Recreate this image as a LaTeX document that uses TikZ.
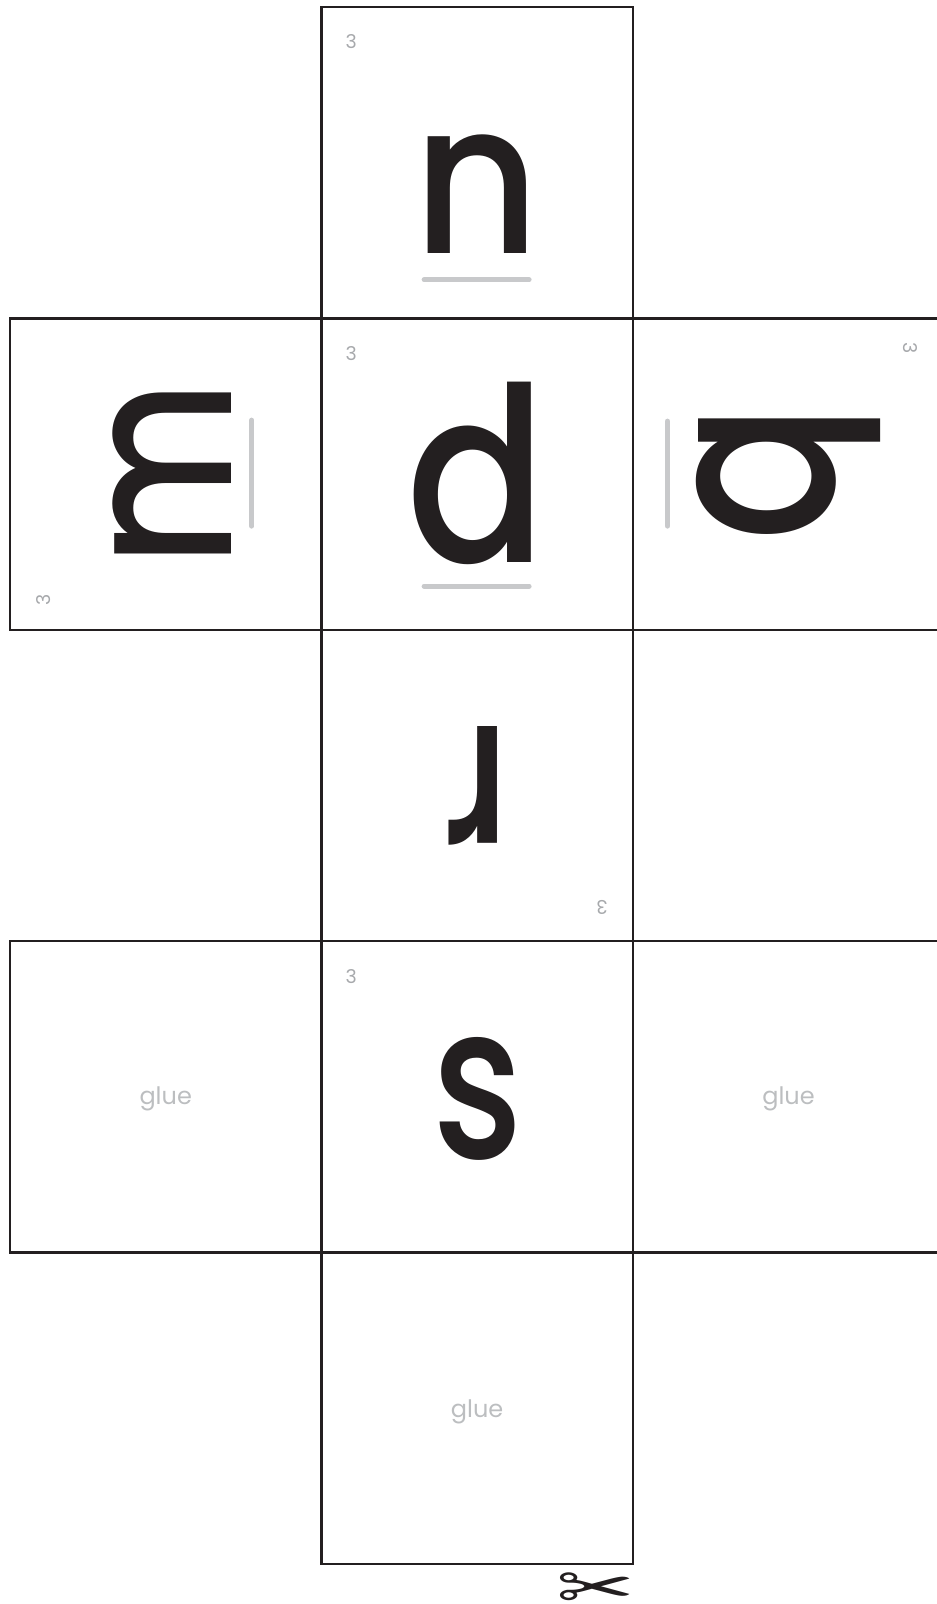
\documentclass[tikz,border=0pt]{standalone}
\usepackage{fontspec}
\setmainfont{Poppins}
\newfontfamily\letterfont{Poppins Medium}
\newfontfamily\symfont{DejaVu Sans}
\usetikzlibrary{positioning, calc}

\definecolor{ink}{HTML}{231F20}
\definecolor{guide}{HTML}{C8C9CB}
\definecolor{faint}{HTML}{A7A9AC}
\definecolor{gluegray}{HTML}{BCBEC0}

\begin{document}
\begin{tikzpicture}[
        x=1pt, y=-1pt,
        node distance=0pt,
        face/.style={rectangle, draw=ink, line width=2.4pt, minimum size=311.4pt, inner sep=0pt, outer sep=0pt},
        letter/.style={text=ink, inner sep=0pt, anchor=base, font=\letterfont\fontsize{212}{212}\selectfont},
        tall/.style={letter, font=\letterfont\fontsize{230}{230}\selectfont},
        guideline/.style={draw=guide, line width=5pt, line cap=round},
        facenum/.style={text=faint, inner sep=0pt, font=\fontsize{19}{19}\selectfont},
        gluetext/.style={text=gluegray, inner sep=0pt, anchor=base, font=\fontsize{24}{24}\selectfont}
    ]
        \useasboundingbox (0,0) rectangle (937,1604);

        % Faces of the net
        \node [face] (faceN) at (477.1,162.7) {};
        \node [face, below=of faceN] (faceD) {};
        \node [face, left=of faceD] (faceM) {};
        \node [face, right=of faceD] (faceB) {};
        \node [face, below=of faceD] (faceR) {};
        \node [face, below=of faceR] (faceS) {};
        \node [face, left=of faceS] (glueL) {};
        \node [face, right=of faceS] (glueR) {};
        \node [face, below=of faceS] (glueB) {};

        % Letters
        \node [letter] (ltrN) at ($(faceN.center)+(0,91)$) {\scalebox{0.92}[1]{n}};
        \node [tall] (ltrD) at ($(faceD.center)+(0,88)$) {\scalebox{0.9}[1.06]{d}};
        \node [letter, rotate=90] (ltrM) at ($(faceM.center)+(66,0)$) {\scalebox{0.85}[1]{m}};
        \node [tall, rotate=-90] (ltrB) at ($(faceB.center)+(-90,-1)$) {\scalebox{0.89}[1.07]{b}};
        \node [letter, rotate=180] (ltrR) at ($(faceR.center)+(0,-59)$) {\scalebox{0.82}[1]{r}};
        \node [letter] (ltrS) at ($(faceS.center)+(1,62)$) {\scalebox{0.8}[1.02]{s}};

        % Guide bars
        \draw [guideline] ($(faceN.center)+(-53,117)$) -- ($(faceN.center)+(52,117)$);
        \draw [guideline] ($(faceD.center)+(-53,112)$) -- ($(faceD.center)+(52,112)$);
        \draw [guideline] ($(faceM.center)+(86,-54)$) -- ($(faceM.center)+(86,52)$);
        \draw [guideline] ($(faceB.center)+(-121,-53)$) -- ($(faceB.center)+(-121,52)$);

        % Face numbers
        \node [facenum] (numN) at ($(faceN.center)+(-126,-121)$) {3};
        \node [facenum] (numD) at ($(faceD.center)+(-126,-121)$) {3};
        \node [facenum, rotate=90] (numM) at ($(faceM.center)+(-122,126)$) {3};
        \node [facenum, rotate=-90] (numB) at ($(faceB.center)+(122,-126)$) {3};
        \node [facenum, rotate=180] (numR) at ($(faceR.center)+(125,122)$) {3};
        \node [facenum] (numS) at ($(faceS.center)+(-126,-120)$) {3};

        % Glue flaps
        \node [gluetext] (txtL) at ($(glueL.center)+(0,8)$) {glue};
        \node [gluetext] (txtR) at ($(glueR.center)+(0,8)$) {glue};
        \node [gluetext] (txtB) at ($(glueB.center)+(0,9)$) {glue};

        % Cut mark
        \node [text=ink, inner sep=0pt, font=\symfont\fontsize{48}{48}\selectfont] (cut) at (596,1591) {\scalebox{1.95}[1.3]{✂}};
    \end{tikzpicture}
\end{document}
